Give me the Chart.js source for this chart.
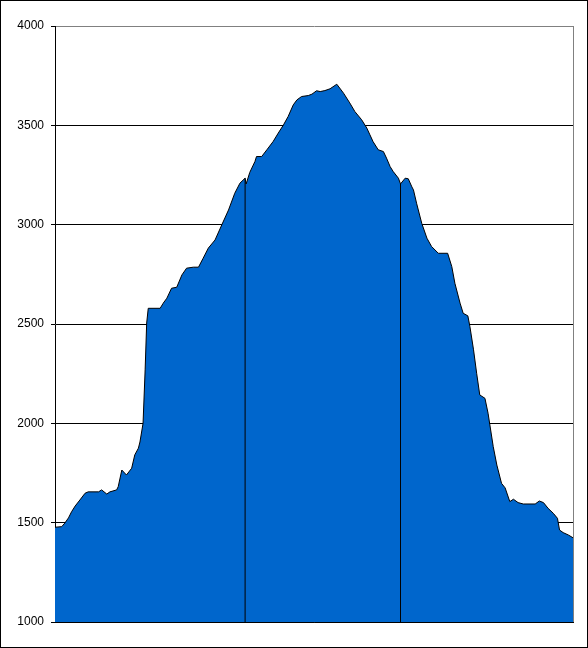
<!DOCTYPE html>
<html>
<head>
<meta charset="utf-8">
<script src="https://cdn.jsdelivr.net/npm/chart.js@4"></script>
<style>
  html, body { margin: 0; padding: 0; background: #fff; }
  #wrap { width: 588px; height: 648px; }
</style>
</head>
<body>
<div id="wrap"><canvas id="profile" width="588" height="648"></canvas></div>
<script>
// distance along the route (0..100) and elevation
const dist = [0, 1.3, 1.9, 2.6, 3.2, 3.9, 4.8, 5.8, 6.4, 8.4, 9.0, 10.0, 10.6, 11.9, 12.2, 12.9, 13.8, 14.8, 15.4, 16.1,
  16.4, 17.0, 17.4, 17.7, 18.0, 20.3, 20.9, 21.6, 22.5, 23.5, 24.5, 25.4, 26.7, 27.7, 28.6, 29.6, 30.9, 32.2, 33.5, 34.7,
  35.7, 36.7, 36.9, 37.6, 38.6, 38.9, 39.9, 40.9, 42.1, 43.1, 44.1, 45.0, 46.0, 46.7, 47.6, 48.9, 49.6, 50.5, 51.2, 52.1,
  53.1, 54.4, 55.7, 56.9, 57.9, 59.2, 60.2, 60.8, 61.4, 62.4, 63.4, 64.0, 64.7, 65.3, 66.3, 66.7, 67.6, 68.2, 68.9, 69.2,
  69.8, 70.8, 71.8, 72.7, 74.0, 75.8, 76.6, 77.2, 78.2, 78.8, 79.7, 80.1, 80.8, 81.4, 82.0, 83.0, 83.6, 84.6, 85.3, 86.2,
  86.9, 87.8, 88.5, 89.4, 90.4, 92.7, 93.5, 94.3, 95.2, 96.2, 97.0, 97.4, 98.1, 99.1, 100];
const elev = [1477, 1480, 1498, 1524, 1555, 1584, 1614, 1648, 1655, 1655, 1665, 1644, 1655, 1665, 1681, 1765, 1740, 1774, 1841, 1875,
  1906, 2000, 2269, 2505, 2579, 2579, 2605, 2630, 2680, 2685, 2747, 2781, 2786, 2786, 2831, 2882, 2923, 2999, 3074, 3158,
  3209, 3234, 3205, 3263, 3318, 3343, 3343, 3377, 3418, 3461, 3502, 3544, 3603, 3628, 3645, 3650, 3657, 3674, 3670, 3675,
  3684, 3707, 3662, 3613, 3569, 3528, 3486, 3452, 3418, 3377, 3368, 3335, 3292, 3267, 3234, 3205, 3234, 3231, 3190, 3175,
  3108, 3007, 2932, 2890, 2856, 2856, 2789, 2705, 2605, 2554, 2541, 2487, 2370, 2252, 2143, 2126, 2051, 1883, 1790, 1698,
  1675, 1606, 1618, 1601, 1594, 1594, 1609, 1601, 1572, 1547, 1522, 1463, 1450, 1438, 1424];
// positions of the two vertical marker lines
const markers = [36.7, 66.7];
const yTicks = [1000, 1500, 2000, 2500, 3000, 3500, 4000];

const profilePoints = dist.map((d, i) => ({ x: d, y: elev[i] }));

const markerSets = markers.map(m => {
    const top = elev[dist.indexOf(m)];
    return {
        type: 'line',
        data: [{ x: m, y: yTicks[0] }, { x: m, y: top }],
        borderColor: '#000',
        borderWidth: 1,
        pointRadius: 0,
        fill: false,
        order: 0
    };
});

// plot frame (grey top/right) and the outer black box
const framePlugin = {
    id: 'frame',
    afterDraw(chart) {
        const { ctx, chartArea } = chart;
        ctx.save();
        ctx.strokeStyle = '#808080';
        ctx.lineWidth = 1;
        ctx.beginPath();
        ctx.moveTo(Math.round(chartArea.right) + 0.5, chartArea.top);
        ctx.lineTo(Math.round(chartArea.right) + 0.5, chartArea.bottom);
        ctx.stroke();
        ctx.strokeStyle = '#000';
        ctx.strokeRect(0.5, 0.5, chart.width - 1, chart.height - 1);
        ctx.restore();
    }
};

new Chart(document.getElementById('profile'), {
    type: 'line',
    data: {
        datasets: [
            {
                data: profilePoints,
                borderColor: '#000',
                borderWidth: 1,
                backgroundColor: '#0066CC',
                fill: 'start',
                pointRadius: 0,
                tension: 0,
                order: 1
            },
            ...markerSets
        ]
    },
    options: {
        responsive: false,
        animation: false,
        layout: { padding: { top: 26, right: 15, bottom: 26, left: 0 } },
        plugins: { legend: { display: false }, tooltip: { enabled: false } },
        scales: {
            x: {
                type: 'linear',
                min: dist[0],
                max: dist[dist.length - 1],
                grid: { display: false, drawTicks: false },
                ticks: { display: false },
                border: { color: '#000', width: 1 }
            },
            y: {
                min: yTicks[0],
                max: yTicks[yTicks.length - 1],
                afterBuildTicks: scale => { scale.ticks = yTicks.map(v => ({ value: v })); },
                afterFit: scale => { scale.width = 55; },
                grid: {
                    color: c => c.tick && c.tick.value === 4000 ? '#808080' : '#000',
                    lineWidth: 1,
                    tickLength: 4,
                    tickColor: '#000'
                },
                border: { color: '#000', width: 1 },
                ticks: {
                    color: '#000',
                    padding: 7,
                    font: { family: 'Arial, "Liberation Sans", sans-serif', size: 12 },
                    callback: v => String(v)
                }
            }
        }
    },
    plugins: [framePlugin]
});
</script>
</body>
</html>
